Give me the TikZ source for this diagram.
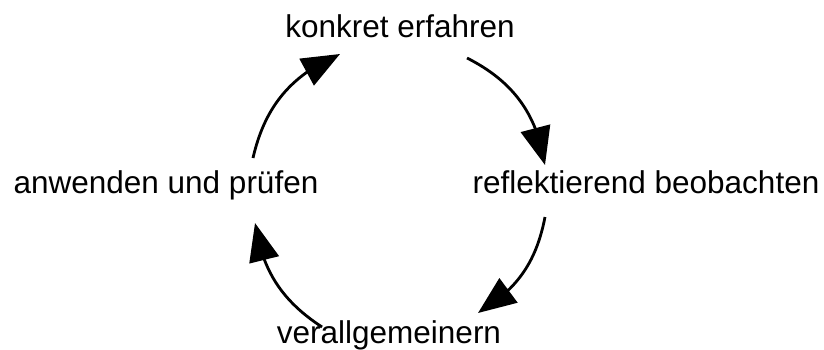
\documentclass[tikz,border=0pt]{standalone}
\usepackage{fontspec}
\setmainfont{Liberation Sans}
\usetikzlibrary{arrows.meta,bending}
\tikzset{
  phase/.style={anchor=base, inner sep=0pt, font=\fontsize{31.5}{38}\selectfont, text=black},
  cyclearrow/.style={line width=2.8pt, -{Triangle[length=38pt,width=30pt,flex]}},
}
\begin{document}
\begin{tikzpicture}[x=1pt,y=-1pt]
  \useasboundingbox (0,0) rectangle (824,349);
  % the four phases of the learning cycle
  \node[phase] (konkret)  at (400,37)  {konkret erfahren};
  \node[phase] (reflekt)  at (646,193) {reflektierend beobachten};
  \node[phase] (verallg)  at (389,343) {verallgemeinern};
  \node[phase] (anwenden) at (166,193) {anwenden und prüfen};
  % start and end points of the curved arrows
  \coordinate (a1s) at (253,158); \coordinate (a1e) at (340,54);
  \coordinate (a2s) at (467,58);  \coordinate (a2e) at (545,165);
  \coordinate (a3s) at (545,217); \coordinate (a3e) at (478,313);
  \coordinate (a4s) at (322,327); \coordinate (a4e) at (255,223);
  % clockwise arrows around the cycle
  \draw[cyclearrow] (a1s) to[bend left=27] (a1e);
  \draw[cyclearrow] (a2s) to[bend left=27] (a2e);
  \draw[cyclearrow] (a3s) to[bend left=24] (a3e);
  \draw[cyclearrow] (a4s) to[bend left=24] (a4e);
\end{tikzpicture}
\end{document}
